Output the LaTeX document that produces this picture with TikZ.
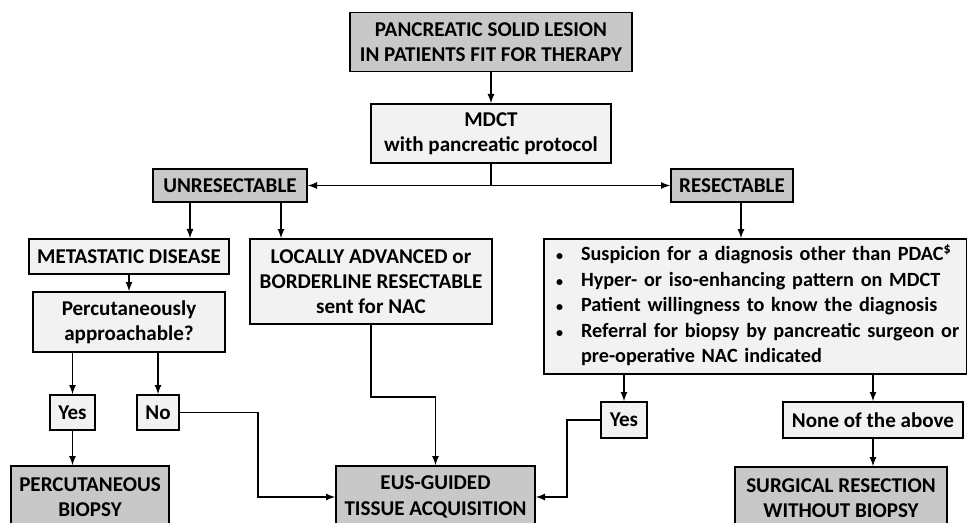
\documentclass[tikz,border=0pt]{standalone}
\usepackage{fontspec}
\setmainfont{Carlito}
\definecolor{boxdark}{RGB}{200,200,200}
\definecolor{boxlight}{RGB}{242,242,242}
\begin{document}
\begin{tikzpicture}[x=0.02cm, y=-0.02cm, >=latex,
    box/.style={draw, line width=1pt, align=center, inner sep=2pt,
        font=\fontsize{12}{14.4}\selectfont\bfseries},
    dark/.style={box, fill=boxdark},
    light/.style={box, fill=boxlight},
    link/.style={line width=0.8pt, ->}]
        \useasboundingbox (0,0) rectangle (967,522);
        \clip (0,0) rectangle (967,522);

        \node [dark, minimum width=5.64cm, minimum height=1.18cm] (lesion) at (491,42) {PANCREATIC SOLID LESION\\IN PATIENTS FIT FOR THERAPY};
        \node [light, minimum width=4.8cm, minimum height=1.18cm] (mdct) at (491,133.5) {MDCT\\with pancreatic protocol};
        \node [dark, minimum width=3.08cm, minimum height=0.66cm] (unres) at (230,185.5) {UNRESECTABLE};
        \node [dark, minimum width=2.44cm, minimum height=0.66cm] (res) at (732,185.5) {RESECTABLE};

        \node [light, minimum width=4cm, minimum height=0.7cm] (meta) at (129,256.5) {METASTATIC DISEASE};
        \node [light, minimum width=3.84cm, minimum height=1.2cm] (perc) at (129,322) {Percutaneously\\approachable?};
        \node [light, minimum width=4.84cm, minimum height=1.7cm] (locally) at (371,281.5) {LOCALLY ADVANCED or\\BORDERLINE RESECTABLE\\sent for NAC};
        \node [light, align=left, inner xsep=0.24cm, text width=7.98cm, minimum height=2.7cm,
            font=\fontsize{11.5}{14.5}\selectfont\bfseries] (criteria) at (755.5,306.5) {%
            \begin{tabular}{@{}c@{\hspace{0.36cm}}l@{}}
            {\footnotesize\textbullet} & Suspicion for a diagnosis other than PDAC\textsuperscript{\$}\\
            {\footnotesize\textbullet} & Hyper- or iso-enhancing pattern on MDCT\\
            {\footnotesize\textbullet} & Patient willingness to know the diagnosis\\
            {\footnotesize\textbullet} & Referral for biopsy by pancreatic surgeon or\\
                        & pre-operative NAC indicated
            \end{tabular}};

        \node [light, minimum width=0.9cm, minimum height=0.7cm] (yesperc) at (72.5,412.5) {Yes};
        \node [light, minimum width=0.84cm, minimum height=0.7cm] (noperc) at (158,412.5) {No};
        \node [light, minimum width=0.92cm, minimum height=0.72cm] (yescrit) at (624,420) {Yes};
        \node [light, minimum width=3.6cm, minimum height=0.72cm] (none) at (873,420) {None of the above};

        \node [dark, minimum width=3.16cm, minimum height=1.24cm] (percbiopsy) at (90,497) {PERCUTANEOUS\\BIOPSY};
        \node [dark, minimum width=3.98cm, minimum height=1.24cm] (eus) at (435.5,497) {EUS-GUIDED\\TISSUE ACQUISITION};
        \node [dark, minimum width=4.24cm, minimum height=1.24cm] (surgery) at (841,498) {SURGICAL RESECTION\\WITHOUT BIOPSY};

        % top of the tree
        \draw [link] (lesion.south) -- (mdct.north);
        \coordinate (split) at (mdct.south |- unres.east);
        \draw [line width=0.8pt] (mdct.south) -- (split);
        \draw [link] (split) -- (unres.east);
        \draw [link] (split) -- (res.west);

        % unresectable branch
        \draw [link] ([xshift=-0.8cm]unres.south) -- ([xshift=-0.8cm]unres.south |- meta.north);
        \draw [link] ([xshift=1.02cm]unres.south) -- ([xshift=1.02cm]unres.south |- locally.north);
        \draw [link] (meta.south) -- (perc.north);
        \draw [link] (perc.south -| yesperc.north) -- (yesperc.north);
        \draw [link] (perc.south -| noperc.north) -- (noperc.north);
        \draw [link] (yesperc.south) -- (yesperc.south |- percbiopsy.north);
        \draw [link] (noperc.east) -- ++(1.56cm,0) |- (eus.west);
        \draw [link] (locally.south) -- ++(0,-1.44cm) -| (eus.north);

        % resectable branch
        \draw [link] ([xshift=0.18cm]res.south) -- ([xshift=0.18cm]res.south |- criteria.north);
        \draw [link] (criteria.south -| yescrit.north) -- (yescrit.north);
        \draw [link] (criteria.south -| none.north) -- (none.north);
        \draw [link] (yescrit.west) -- ++(-0.66cm,0) |- (eus.east);
        \draw [link] (none.south) -- (none.south |- surgery.north);
    \end{tikzpicture}
\end{document}
